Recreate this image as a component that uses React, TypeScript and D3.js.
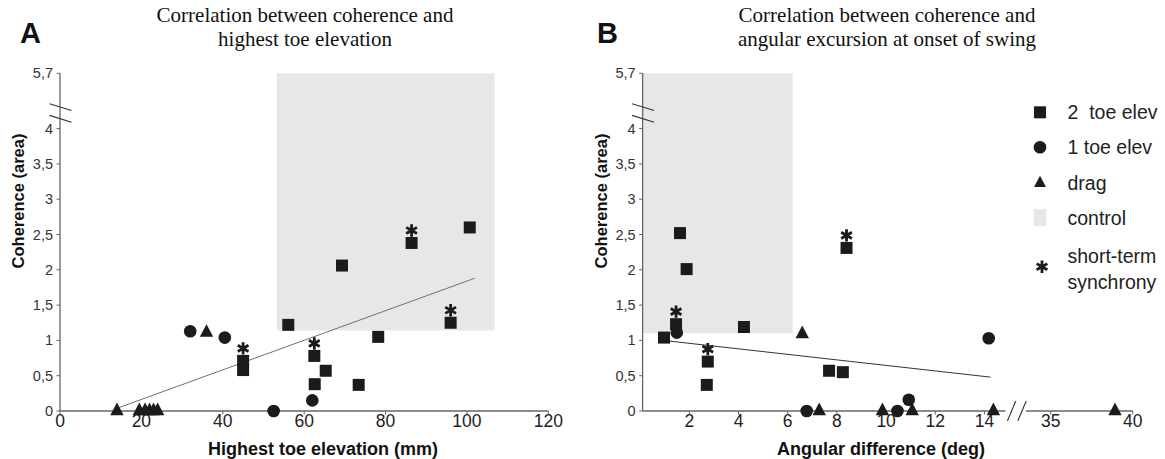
import React from "react";
import * as d3 from "d3";

const W = 1165;
const H = 459;

// ---------- Panel A : highest toe elevation (mm) ----------
const aSquareX = [100.7, 86.4, 69.3, 56.1, 96.0, 78.2, 45.0, 45.0, 62.5, 65.3, 62.6, 73.4];
const aSquareY = [2.6, 2.38, 2.06, 1.22, 1.25, 1.05, 0.71, 0.58, 0.78, 0.57, 0.38, 0.37];
const aSquareSync = [0, 1, 0, 0, 1, 0, 1, 0, 1, 0, 0, 0];
const aCircleX = [32.0, 40.5, 52.5, 62.0];
const aCircleY = [1.13, 1.04, 0, 0.15];
const aTriangleX = [36.0, 14.0, 19.5, 20.9, 22.0, 23.0, 24.0];
const aTriangleY = [1.11, 0, 0, 0, 0, 0, 0];
const aControlX = [53.3, 106.8];
const aControlY = [1.14, 5.7];
const aTrendX = [14.1, 101.9];
const aTrendY = [0.04, 1.88];
const aXTicks = [0, 20, 40, 60, 80, 100, 120];

// ---------- Panel B : angular difference (deg) ----------
const bSquareX = [0.97, 1.46, 1.62, 1.89, 4.22, 2.75, 2.71, 7.68, 8.24, 8.39];
const bSquareY = [1.04, 1.23, 2.52, 2.01, 1.19, 0.7, 0.37, 0.57, 0.55, 2.31];
const bSquareSync = [0, 1, 0, 0, 0, 1, 0, 0, 0, 1];
const bCircleX = [1.49, 14.17, 6.77, 10.46, 10.92];
const bCircleY = [1.11, 1.03, 0, 0, 0.16];
const bTriangleX = [6.59, 7.28, 9.85, 11.06, 14.36, 38.92];
const bTriangleY = [1.09, 0, 0, 0, 0, 0];
const bControlX = [0.1, 6.2];
const bControlY = [1.1, 5.7];
const bTrendX = [0.94, 14.24];
const bTrendY = [1.0, 0.48];
const bXTicks = [2, 4, 6, 8, 10, 12, 14, 35, 40];

// ---------- shared ----------
const yTicks = [0, 0.5, 1, 1.5, 2, 2.5, 3, 3.5, 4, 5.7];
const yTickLabels = ["0", "0,5", "1", "1,5", "2", "2,5", "3", "3,5", "4", "5,7"];
const yBreak = 4.48;
const legendLabels = ["2  toe elev", "1 toe elev", "drag", "control"];
const legendSyncLabels = ["short-term", "synchrony"];

const INK = "#1b1b1b";
const AXIS = "#666";
const CONTROL = "#e6e7e9";
const SANS = "'Liberation Sans', Arial, Helvetica, sans-serif";
const SERIF = "'Liberation Serif', 'Times New Roman', serif";

const triType = {
  draw(ctx: any, size: number) {
    const w = Math.sqrt(size) * 1.3;
    const h = w * 0.95;
    ctx.moveTo(0, (-2 * h) / 3);
    ctx.lineTo(w / 2, h / 3);
    ctx.lineTo(-w / 2, h / 3);
    ctx.closePath();
  },
};

const squarePath = d3.symbol(d3.symbolSquare, 144)() as string;
const circlePath = d3.symbol(d3.symbolCircle, 125)() as string;
const trianglePath = d3.symbol(triType as any, 106)() as string;
const asteriskPath = d3.symbol(d3.symbolAsterisk, 108)() as string;

type PanelProps = {
  x: d3.ScaleLinear<number, number>;
  y: d3.ScaleLinear<number, number>;
  xTicks: number[];
  axisSegments: [number, number][];
  xBreaks: number[];
  sqX: number[]; sqY: number[]; sqSync: number[];
  ciX: number[]; ciY: number[];
  trX: number[]; trY: number[];
  ctrlX: number[]; ctrlY: number[];
  trendX: number[]; trendY: number[];
  trendColor: string;
  title: string[];
  titleX: number;
  letter: string;
  letterX: number;
  xTitle: string;
  xTitleX: number;
};

function Panel(p: PanelProps) {
  const { x, y } = p;
  const ax = x(p.axisSegments[0][0]);
  const y0 = y(0);
  const line = d3.line<[number, number]>().x((d) => x(d[0])).y((d) => y(d[1]));
  const trend: [number, number][] = p.trendX.map((v, i) => [v, p.trendY[i]]);
  const yb = y(yBreak);
  return (
    <g>
      <text x={p.letterX} y={43} fontFamily={SANS} fontWeight="bold" fontSize={29} fill="#111">
        {p.letter}
      </text>
      {p.title.map((t, i) => (
        <text key={i} x={p.titleX} y={22 + i * 24} textAnchor="middle" fontFamily={SERIF} fontSize={21} fill="#111">
          {t}
        </text>
      ))}
      <rect
        x={x(p.ctrlX[0])}
        y={y(p.ctrlY[1])}
        width={x(p.ctrlX[1]) - x(p.ctrlX[0])}
        height={y(p.ctrlY[0]) - y(p.ctrlY[1])}
        fill={CONTROL}
      />
      {/* y axis */}
      <line x1={ax} x2={ax} y1={y(0)} y2={y(5.7)} stroke={AXIS} strokeWidth={1.3} />
      {yTicks.map((t, i) => (
        <g key={i}>
          <line x1={ax - 3.5} x2={ax} y1={y(t)} y2={y(t)} stroke={AXIS} strokeWidth={1} />
          <text x={ax - 7} y={y(t)} dy="0.35em" textAnchor="end" fontFamily={SANS} fontSize={14.5} fill="#333">
            {yTickLabels[i]}
          </text>
        </g>
      ))}
      {[-5.8, 5.8].map((o, i) => (
        <line key={i} x1={ax - 10.5} x2={ax + 11.5} y1={yb + o - 3.4} y2={yb + o + 3.4} stroke="#333" strokeWidth={1.1} />
      ))}
      <text
        transform={`translate(${ax - 36},201) rotate(-90)`}
        textAnchor="middle"
        fontFamily={SANS}
        fontWeight="bold"
        fontSize={16.5}
        fill="#111"
      >
        Coherence (area)
      </text>
      {/* x axis */}
      {p.axisSegments.map((s, i) => (
        <line key={i} x1={x(s[0])} x2={x(s[1])} y1={y0} y2={y0} stroke={AXIS} strokeWidth={1.3} />
      ))}
      {p.xBreaks.map((b, i) => (
        <line key={i} x1={x(b) - 4.2} x2={x(b) + 4.2} y1={y0 + 10} y2={y0 - 10} stroke="#333" strokeWidth={1.1} />
      ))}
      {p.xTicks.map((t, i) => (
        <g key={i}>
          <line x1={x(t)} x2={x(t)} y1={y0} y2={y0 + 3.5} stroke={AXIS} strokeWidth={1} />
          <text x={x(t)} y={y0 + 15.5} textAnchor="middle" fontFamily={SANS} fontSize={17.5} fill="#222">
            {t}
          </text>
        </g>
      ))}
      <text x={p.xTitleX} y={455} textAnchor="middle" fontFamily={SANS} fontWeight="bold" fontSize={18} fill="#111">
        {p.xTitle}
      </text>
      {/* trend line */}
      <path d={line(trend) || ""} fill="none" stroke={p.trendColor} strokeWidth={1} />
      {/* markers */}
      {p.sqX.map((v, i) => (
        <path key={"s" + i} d={squarePath} transform={`translate(${x(v)},${y(p.sqY[i])})`} fill={INK} />
      ))}
      {p.ciX.map((v, i) => (
        <path key={"c" + i} d={circlePath} transform={`translate(${x(v)},${y(p.ciY[i])})`} fill={INK} />
      ))}
      {p.trX.map((v, i) => (
        <path key={"t" + i} d={trianglePath} transform={`translate(${x(v)},${y(p.trY[i])})`} fill={INK} />
      ))}
      {p.sqX.map((v, i) =>
        p.sqSync[i] ? (
          <path
            key={"a" + i}
            d={asteriskPath}
            transform={`translate(${x(v)},${y(p.sqY[i]) - 12.5})`}
            fill="none"
            stroke={INK}
            strokeWidth={2.8}
          />
        ) : null
      )}
    </g>
  );
}

export default function App() {
  const xA = d3.scaleLinear().domain([0, 120]).range([60, 548.3]);
  const yA = d3.scaleLinear().domain([0, 4, 5.7]).range([411, 128.6, 73.3]);
  const xB = d3.scaleLinear().domain([0.1, 15.1, 33.25, 40]).range([642.6, 1011.6, 1022, 1132.7]);
  const yB = yA.copy();

  const legY = [112.3, 147.3, 183.3, 217.7];
  const legMarkX = 1040;
  const legTextX = 1067.5;
  const legendShapes = [squarePath, circlePath, d3.symbol(triType as any, 85)() as string];

  return (
    <svg width={W} height={H} style={{ position: "absolute", left: 0, top: 0, background: "#fff" }}>
      <rect width={W} height={H} fill="#fff" />
      <Panel
        x={xA}
        y={yA}
        xTicks={aXTicks}
        axisSegments={[[0, 120]]}
        xBreaks={[]}
        sqX={aSquareX} sqY={aSquareY} sqSync={aSquareSync}
        ciX={aCircleX} ciY={aCircleY}
        trX={aTriangleX} trY={aTriangleY}
        ctrlX={aControlX} ctrlY={aControlY}
        trendX={aTrendX} trendY={aTrendY}
        trendColor="#707070"
        title={["Correlation between coherence and", "highest toe elevation"]}
        titleX={305}
        letter="A"
        letterX={20}
        xTitle="Highest toe elevation (mm)"
        xTitleX={323}
      />
      <Panel
        x={xB}
        y={yB}
        xTicks={bXTicks}
        axisSegments={[[0.1, 14.85], [33.5, 40]]}
        xBreaks={[15.1, 33.25]}
        sqX={bSquareX} sqY={bSquareY} sqSync={bSquareSync}
        ciX={bCircleX} ciY={bCircleY}
        trX={bTriangleX} trY={bTriangleY}
        ctrlX={bControlX} ctrlY={bControlY}
        trendX={bTrendX} trendY={bTrendY}
        trendColor="#333"
        title={["Correlation between coherence and", "angular excursion at onset of swing"]}
        titleX={887}
        letter="B"
        letterX={597}
        xTitle="Angular difference (deg)"
        xTitleX={881}
      />
      {/* legend */}
      {legendLabels.map((l, i) => (
        <g key={i}>
          {i < 3 ? (
            <path d={legendShapes[i]} transform={`translate(${legMarkX},${legY[i]})`} fill={INK} />
          ) : (
            <rect x={legMarkX - 6.3} y={legY[i] - 8.6} width={12.6} height={17.2} fill={CONTROL} />
          )}
          <text x={legTextX} y={legY[i]} dy="0.35em" fontFamily={SANS} fontSize={19.5} fill="#222" style={{ whiteSpace: "pre" }}>
            {l}
          </text>
        </g>
      ))}
      <path d={asteriskPath} transform={`translate(${legMarkX + 2},266.7)`} fill="none" stroke={INK} strokeWidth={2.8} />
      {legendSyncLabels.map((l, i) => (
        <text key={i} x={legTextX} y={256 + i * 26.5} dy="0.35em" fontFamily={SANS} fontSize={19.5} fill="#222">
          {l}
        </text>
      ))}
    </svg>
  );
}
